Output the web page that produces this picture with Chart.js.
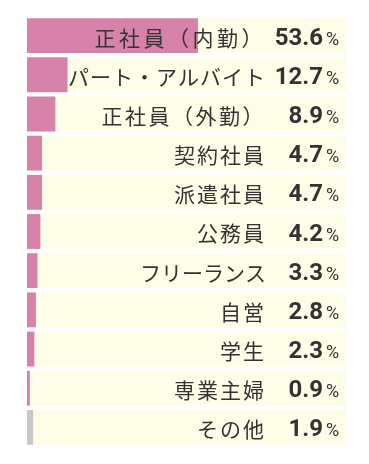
<!DOCTYPE html>
<html>
<head>
<meta charset="utf-8">
<script src="https://cdn.jsdelivr.net/npm/chart.js@4/dist/chart.umd.min.js"></script>
<style>
  html, body { margin: 0; padding: 0; background: #fff; }
  #wrap { width: 369px; height: 464px; position: relative; }
</style>
</head>
<body>
<div id="wrap"><canvas id="jobChart"></canvas></div>
<script>
// 職業の内訳
var categories = ['正社員（内勤）', 'パート・アルバイト', '正社員（外勤）', '契約社員', '派遣社員', '公務員', 'フリーランス', '自営', '学生', '専業主婦', 'その他'];
var shares = [53.6, 12.7, 8.9, 4.7, 4.7, 4.2, 3.3, 2.8, 2.3, 0.9, 1.9];
var fullScale = categories.map(function () { return 100; });

var pink = 'rgb(215,130,168)';
var grey = 'rgb(200,200,200)';
var barColors = categories.map(function (c) { return c === 'その他' ? grey : pink; });

// 字間（カタカナは詰め、括弧つきは広め）
var spacing = { 'フリーランス': '0px', 'パート・アルバイト': '1px', '正社員（内勤）': '3.5px', '正社員（外勤）': '2.5px' };

// ラベルと数値を描くプラグイン
var rowLabels = {
    id: 'rowLabels',
    afterDatasetsDraw: function (chart) {
        var ctx = chart.ctx;
        var y = chart.scales.y;
        ctx.save();
        ctx.fillStyle = '#333';
        categories.forEach(function (name, i) {
            var cy = y.getPixelForValue(i);
            ctx.textBaseline = 'middle';
            ctx.font = '21px "Noto Sans CJK JP"';
            ctx.letterSpacing = spacing[name] || '2px';
            ctx.textAlign = 'right';
            ctx.fillText(name, 266, cy + 2);
            ctx.letterSpacing = '0px';
            ctx.textBaseline = 'alphabetic';
            ctx.font = 'bold 24px Roboto';
            ctx.fillText(shares[i].toFixed(1), 323, cy + 9);
            ctx.font = '18px Roboto';
            ctx.textAlign = 'left';
            ctx.fillText('%', 326, cy + 9);
        });
        ctx.restore();
    }
};

var ctx = document.getElementById('jobChart').getContext('2d');
var chart = new Chart(ctx, {
    type: 'bar',
    data: {
        labels: categories,
        datasets: [{
            data: shares,
            backgroundColor: barColors,
            grouped: false,
            barPercentage: 1,
            categoryPercentage: 0.89
        }, {
            data: fullScale,
            backgroundColor: 'rgb(254,253,232)',
            grouped: false,
            barPercentage: 1,
            categoryPercentage: 0.89
        }]
    },
    options: {
        indexAxis: 'y',
        responsive: true,
        maintainAspectRatio: false,
        animation: false,
        layout: { padding: { left: 27, right: 23, top: 16, bottom: 17 } },
        plugins: { legend: { display: false }, tooltip: { enabled: false } },
        scales: {
            x: { display: false, min: 0, max: 100 },
            y: { display: false }
        }
    },
    plugins: [rowLabels]
});
</script>
</body>
</html>
